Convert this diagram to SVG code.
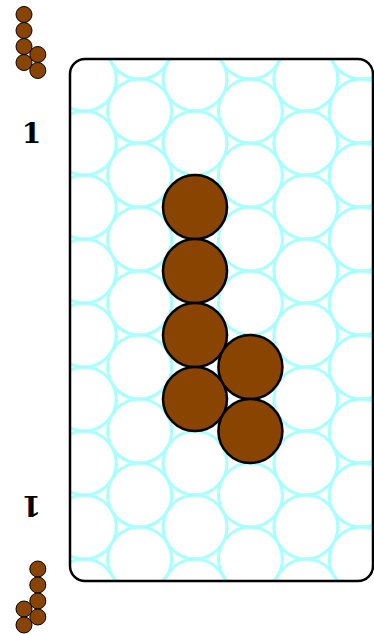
<svg xmlns="http://www.w3.org/2000/svg" width="374" height="634" viewBox="0 0 374 634">
<style>
.g{fill:none;stroke:#aaffff;stroke-width:3}
.p{fill:#884400;stroke:#000;stroke-width:2.5}
.s{fill:#884400;stroke:#000;stroke-width:1}
.n{font-family:"DejaVu Serif",serif;font-weight:bold;font-size:28px;text-anchor:middle;fill:#000}
</style>
<defs>
<clipPath id="bc"><rect x="70" y="59" width="303" height="522" rx="15"/></clipPath>
</defs>
<rect width="374" height="634" fill="#fff"/>
<g id="board">
<g clip-path="url(#bc)" class="g">
<circle cx="84.2" cy="15" r="32"/><circle cx="84.2" cy="79" r="32"/><circle cx="84.2" cy="143" r="32"/><circle cx="84.2" cy="207" r="32"/><circle cx="84.2" cy="271" r="32"/><circle cx="84.2" cy="335" r="32"/><circle cx="84.2" cy="399" r="32"/><circle cx="84.2" cy="463" r="32"/><circle cx="84.2" cy="527" r="32"/><circle cx="84.2" cy="591" r="32"/>
<circle cx="195" cy="15" r="32"/><circle cx="195" cy="79" r="32"/><circle cx="195" cy="143" r="32"/><circle cx="195" cy="207" r="32"/><circle cx="195" cy="271" r="32"/><circle cx="195" cy="335" r="32"/><circle cx="195" cy="399" r="32"/><circle cx="195" cy="463" r="32"/><circle cx="195" cy="527" r="32"/><circle cx="195" cy="591" r="32"/>
<circle cx="305.8" cy="15" r="32"/><circle cx="305.8" cy="79" r="32"/><circle cx="305.8" cy="143" r="32"/><circle cx="305.8" cy="207" r="32"/><circle cx="305.8" cy="271" r="32"/><circle cx="305.8" cy="335" r="32"/><circle cx="305.8" cy="399" r="32"/><circle cx="305.8" cy="463" r="32"/><circle cx="305.8" cy="527" r="32"/><circle cx="305.8" cy="591" r="32"/>
<circle cx="139.6" cy="47" r="32"/><circle cx="139.6" cy="111" r="32"/><circle cx="139.6" cy="175" r="32"/><circle cx="139.6" cy="239" r="32"/><circle cx="139.6" cy="303" r="32"/><circle cx="139.6" cy="367" r="32"/><circle cx="139.6" cy="431" r="32"/><circle cx="139.6" cy="495" r="32"/><circle cx="139.6" cy="559" r="32"/><circle cx="139.6" cy="623" r="32"/>
<circle cx="250.4" cy="47" r="32"/><circle cx="250.4" cy="111" r="32"/><circle cx="250.4" cy="175" r="32"/><circle cx="250.4" cy="239" r="32"/><circle cx="250.4" cy="303" r="32"/><circle cx="250.4" cy="367" r="32"/><circle cx="250.4" cy="431" r="32"/><circle cx="250.4" cy="495" r="32"/><circle cx="250.4" cy="559" r="32"/><circle cx="250.4" cy="623" r="32"/>
<circle cx="361.2" cy="47" r="32"/><circle cx="361.2" cy="111" r="32"/><circle cx="361.2" cy="175" r="32"/><circle cx="361.2" cy="239" r="32"/><circle cx="361.2" cy="303" r="32"/><circle cx="361.2" cy="367" r="32"/><circle cx="361.2" cy="431" r="32"/><circle cx="361.2" cy="495" r="32"/><circle cx="361.2" cy="559" r="32"/><circle cx="361.2" cy="623" r="32"/>
</g>
<rect x="70" y="59" width="303" height="522" rx="15" fill="none" stroke="#000" stroke-width="2.5"/>
</g>
<g id="piece">
<circle class="p" cx="195" cy="207" r="32"/>
<circle class="p" cx="195" cy="271" r="32"/>
<circle class="p" cx="195" cy="335" r="32"/>
<circle class="p" cx="195" cy="399" r="32"/>
<circle class="p" cx="250.4" cy="367" r="32"/>
<circle class="p" cx="250.4" cy="431" r="32"/>
</g>
<g id="piece-top">
<circle class="s" cx="24" cy="14.5" r="8"/>
<circle class="s" cx="24" cy="30.5" r="8"/>
<circle class="s" cx="24" cy="46.5" r="8"/>
<circle class="s" cx="24" cy="62.5" r="8"/>
<circle class="s" cx="37.8" cy="54.5" r="8"/>
<circle class="s" cx="37.8" cy="70.5" r="8"/>
</g>
<g id="piece-bottom">
<circle class="s" cx="37.8" cy="569" r="8"/>
<circle class="s" cx="37.8" cy="585" r="8"/>
<circle class="s" cx="37.8" cy="601" r="8"/>
<circle class="s" cx="37.8" cy="617" r="8"/>
<circle class="s" cx="24" cy="609" r="8"/>
<circle class="s" cx="24" cy="625" r="8"/>
</g>
<g id="label-top"><text class="n" x="31.5" y="143">1</text></g>
<g id="label-bottom"><text class="n" x="31.5" y="516" transform="rotate(180 31.5 506)">1</text></g>
</svg>
